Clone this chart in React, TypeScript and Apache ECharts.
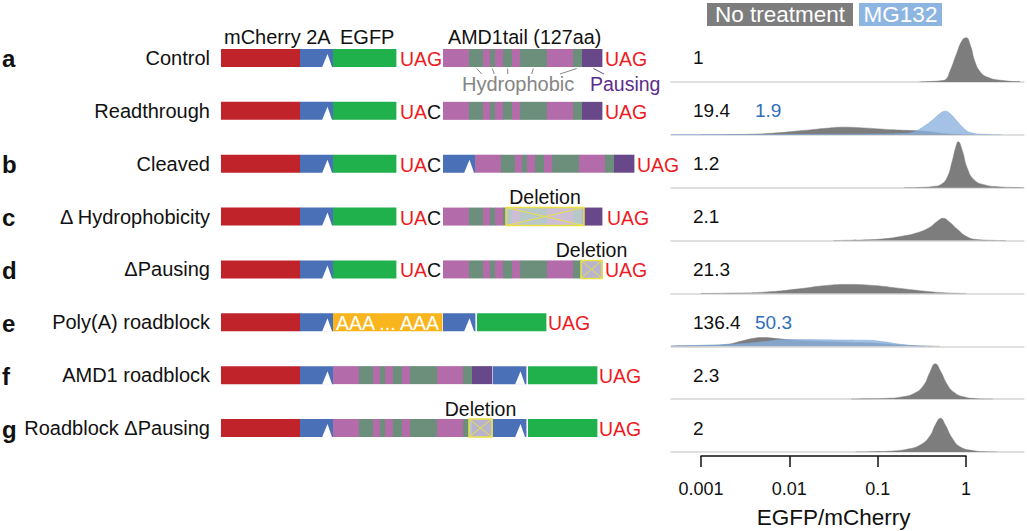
import React, { useEffect, useRef } from "react";
import * as echarts from "echarts";

// ---------- data ----------
const rowNames = [
  "Control",
  "Readthrough",
  "Cleaved",
  "Δ Hydrophobicity",
  "ΔPausing",
  "Poly(A) roadblock",
  "AMD1 roadblock",
  "Roadblock ΔPausing",
];
const panelLetters = ["a", "", "b", "c", "d", "e", "f", "g"];
const noTreatmentValues = ["1", "19.4", "1.2", "2.1", "21.3", "136.4", "2.3", "2"];
const mg132Values = ["", "1.9", "", "", "", "50.3", "", ""];
const legendNames = ["No treatment", "MG132"];
const axisTitle = "EGFP/mCherry";

// schematic: segment kinds
const segKinds = ["mCherry", "2A", "EGFP", "tail", "hydrophobic", "pausing", "polyA"];
// AMD1 tail pieces: [startOffset, endOffset, kind] (schematic units)
const amd1Tail: [number, number, string][] = [
  [0, 26, "tail"], [26, 40, "hydrophobic"], [40, 47, "tail"], [47, 52, "hydrophobic"],
  [52, 60, "tail"], [60, 69, "hydrophobic"], [69, 77, "tail"], [77, 104, "hydrophobic"],
  [104, 130, "tail"], [130, 139, "hydrophobic"], [139, 159, "pausing"],
];
// construct parts: [row, kind, start, end]; "amd1" expands to the tail pieces
const constructParts: [number, string, number, number][] = [
  [0, "mCherry", 0, 79], [0, "2A", 79, 112], [0, "EGFP", 112, 175], [0, "amd1", 222, 381],
  [1, "mCherry", 0, 79], [1, "2A", 79, 112], [1, "EGFP", 112, 175], [1, "amd1", 222, 381],
  [2, "mCherry", 0, 79], [2, "2A", 79, 112], [2, "EGFP", 112, 175], [2, "2A", 222, 254], [2, "amd1", 254, 413],
  [3, "mCherry", 0, 79], [3, "2A", 79, 112], [3, "EGFP", 112, 175], [3, "amd1", 222, 381],
  [4, "mCherry", 0, 79], [4, "2A", 79, 112], [4, "EGFP", 112, 175], [4, "amd1", 222, 381],
  [5, "mCherry", 0, 79], [5, "2A", 79, 112], [5, "polyA", 112, 221], [5, "2A", 222, 254], [5, "EGFP", 256, 325],
  [6, "mCherry", 0, 79], [6, "2A", 79, 112], [6, "amd1", 112, 271], [6, "2A", 272, 305], [6, "EGFP", 307, 376],
  [7, "mCherry", 0, 79], [7, "2A", 79, 112], [7, "amd1", 112, 271], [7, "2A", 272, 305], [7, "EGFP", 307, 376],
];
// deletions: [row, start, end]
const deletions: [number, number, number][] = [[3, 285, 363], [4, 360, 381], [7, 248, 271]];
// codons: [row, x, text]
const codons: [number, number, string][] = [
  [0, 179, "UAG"], [0, 384, "UAG"],
  [1, 179, "UAC"], [1, 384, "UAG"],
  [2, 179, "UAC"], [2, 416, "UAG"],
  [3, 179, "UAC"], [3, 386, "UAG"],
  [4, 179, "UAC"], [4, 384, "UAG"],
  [5, 327, "UAG"],
  [6, 378, "UAG"],
  [7, 378, "UAG"],
];

// densities: [EGFP/mCherry ratio, density]
const controlNT = [[0.295, 0], [0.427, 0.7], [0.513, 1.3], [0.581, 2.3], [0.661, 11.7], [0.776, 28], [0.902, 41.7], [1.0, 44.3], [1.114, 36.7], [1.259, 20], [1.445, 10], [1.718, 5], [2.432, 1.7], [4.07, 0.3]];
const readthroughNT = [[0.001, 0], [0.00234, 0.3], [0.00562, 1.3], [0.0132, 4], [0.0245, 6.3], [0.0407, 7.7], [0.0759, 6.7], [0.151, 5], [0.278, 4], [0.427, 2.7], [0.562, 1.3], [0.794, 0.3], [1.26, 0]];
const readthroughMG = [[0.00046, 0.3], [0.00316, 0.4], [0.0316, 0.6], [0.0759, 0.7], [0.2, 1.5], [0.257, 3], [0.331, 8.3], [0.427, 15.7], [0.513, 21.7], [0.581, 23.7], [0.661, 21], [0.794, 13.3], [0.933, 6.7], [1.114, 2.3], [1.585, 0.5], [2.512, 0]];
const cleavedNT = [[0.2, 0], [0.302, 0.3], [0.427, 1.3], [0.513, 3], [0.607, 10], [0.692, 26], [0.759, 40], [0.813, 46], [0.897, 38], [1.023, 20], [1.216, 8.3], [1.585, 3], [2.432, 0.8], [3.548, 0.2], [4.467, 0]];
const dHydrophobicityNT = [[0.0316, 0], [0.049, 0.3], [0.0759, 0.7], [0.117, 1.7], [0.18, 4], [0.278, 7.7], [0.389, 13.3], [0.468, 19], [0.55, 22.3], [0.631, 19.3], [0.794, 11.3], [1.023, 3.7], [1.318, 1], [1.862, 0.3], [2.818, 0]];
const dPausingNT = [[0.001, 0], [0.00234, 0.3], [0.00562, 1.5], [0.0132, 4.7], [0.0245, 7.7], [0.0447, 9], [0.0891, 8], [0.18, 5], [0.363, 2], [0.607, 0.5], [1.0, 0]];
const polyANT = [[0.00046, 0.3], [0.001, 0.7], [0.002, 2], [0.00282, 5], [0.00398, 8], [0.00513, 8.7], [0.00724, 7.7], [0.0112, 6], [0.0204, 5], [0.049, 4], [0.1, 3], [0.18, 1.3], [0.302, 0.3], [0.501, 0]];
const polyAMG = [[0.00046, 0.3], [0.001, 1], [0.00234, 2], [0.00562, 5], [0.00794, 6.5], [0.0132, 6.7], [0.0316, 6.3], [0.0759, 6], [0.117, 4.5], [0.18, 2], [0.278, 0.5], [0.427, 0]];
const amd1RoadblockNT = [[0.05, 0], [0.0759, 0.3], [0.117, 0.7], [0.18, 2], [0.257, 5.7], [0.331, 14], [0.389, 27], [0.447, 35.3], [0.513, 28], [0.607, 15], [0.724, 7], [0.933, 2.3], [1.318, 0.5], [2.0, 0]];
const roadblockDPausingNT = [[0.0562, 0], [0.0891, 0.3], [0.151, 1], [0.214, 2.7], [0.302, 7], [0.389, 16], [0.447, 27], [0.513, 33.7], [0.581, 27], [0.692, 14], [0.859, 5], [1.216, 1.3], [1.585, 0.3], [2.239, 0]];

const noTreatmentDensities = [controlNT, readthroughNT, cleavedNT, dHydrophobicityNT, dPausingNT, polyANT, amd1RoadblockNT, roadblockDPausingNT];
const mg132Densities: (number[][] | null)[] = [null, readthroughMG, null, null, null, polyAMG, null, null];

// ---------- styles / layout ----------
const FONT = "'Liberation Sans', Arial, Helvetica, sans-serif";
const segColors: Record<string, string> = {
  mCherry: "#c1232b",
  "2A": "#4a70b7",
  EGFP: "#20b14c",
  tail: "#b36ba9",
  hydrophobic: "#6c8f7b",
  pausing: "#684888",
  polyA: "#f8b51d",
};
const RED = "#ed1c24";
const GREY = "#7d7d7d";
const BLUE_FILL = "#89b1df";
const BLUE_TEXT = "#2f6fba";
const ROW_TOP = 31.55;
const ROW_STEP = 52.86;
const rowCenter = (i: number) => ROW_TOP + (i + 0.5) * ROW_STEP;
const BAR_H = 18;
const RIDGE_LEFT = 671;
const RIDGE_W = 353;
const RIDGE_H = 50;
const BASE_OFFSET = 24;

function buildSegments() {
  const out: number[][] = [];
  constructParts.forEach(([row, kind, s, e]) => {
    if (kind === "amd1") {
      amd1Tail.forEach(([a, b, k]) => out.push([row, s + a, s + b, segKinds.indexOf(k)]));
    } else {
      out.push([row, s, e, segKinds.indexOf(kind)]);
    }
  });
  return out;
}

export default function App() {
  const ref = useRef<HTMLDivElement>(null);
  useEffect(() => {
    if (!ref.current) return;
    const chart = echarts.init(ref.current, undefined, { renderer: "svg" });

    const grids: any[] = [
      { left: 221, top: ROW_TOP, width: 470, height: 8 * ROW_STEP },
    ];
    const xAxes: any[] = [{ type: "value", min: 0, max: 470, show: false, gridIndex: 0 }];
    const yAxes: any[] = [
      {
        type: "category",
        data: rowNames,
        inverse: true,
        gridIndex: 0,
        axisLine: { show: false },
        axisTick: { show: false },
        axisLabel: { fontSize: 20, color: "#111", fontFamily: FONT, margin: 11 },
      },
    ];
    for (let i = 0; i < 8; i++) {
      const base = rowCenter(i) + BASE_OFFSET;
      grids.push({ left: RIDGE_LEFT, width: RIDGE_W, top: base - RIDGE_H, height: RIDGE_H });
      xAxes.push({
        type: "log",
        logBase: 10,
        min: 0.00046,
        max: 4.5,
        gridIndex: i + 1,
        axisLine: { show: true, onZero: false, lineStyle: { color: "#d6d6d6", width: 1.5 } },
        axisTick: { show: false },
        axisLabel: { show: false },
        splitLine: { show: false },
      });
      yAxes.push({ type: "value", min: 0, max: RIDGE_H, show: false, gridIndex: i + 1 });
    }
    // visible bottom axis
    grids.push({ left: 701, width: 265, top: 440, height: 16 });
    xAxes.push({
      type: "log",
      logBase: 10,
      min: 0.001,
      max: 1,
      gridIndex: 9,
      axisLine: { show: true, onZero: false, lineStyle: { color: "#111", width: 1.5 } },
      axisTick: { show: true, length: 11, lineStyle: { color: "#111", width: 1.5 } },
      axisLabel: {
        show: true,
        fontSize: 18,
        color: "#111",
        fontFamily: FONT,
        margin: 24,
        formatter: (v: number) => String(Number(Number(v).toPrecision(2))),
      },
      splitLine: { show: false },
      name: axisTitle,
      nameLocation: "middle",
      nameGap: 50,
      nameTextStyle: { fontSize: 22.5, color: "#111", fontFamily: FONT },
    });
    yAxes.push({ type: "value", show: false, gridIndex: 9 });

    const series: any[] = [];
    series.push({
      type: "custom",
      xAxisIndex: 0,
      yAxisIndex: 0,
      silent: true,
      data: buildSegments(),
      encode: { x: [1, 2], y: 0 },
      renderItem: (_p: any, api: any) => {
        const row = api.value(0);
        const p0 = api.coord([api.value(1), row]);
        const p1 = api.coord([api.value(2), row]);
        const kind = segKinds[api.value(3)];
        const top = p0[1] - BAR_H / 2;
        const children: any[] = [
          {
            type: "rect",
            shape: { x: p0[0], y: top, width: p1[0] - p0[0] + 0.4, height: BAR_H },
            style: { fill: segColors[kind] },
          },
        ];
        if (kind === "2A") {
          children.push({
            type: "polygon",
            shape: { points: [[p1[0] - 11, top + BAR_H + 0.5], [p1[0] - 5.5, top + 5], [p1[0] - 0.8, top + BAR_H + 0.5]] },
            style: { fill: "#fff" },
          });
        }
        if (kind === "polyA") {
          children.push({
            type: "text",
            style: {
              text: "AAA ... AAA",
              x: (p0[0] + p1[0]) / 2,
              y: p0[1] + 1,
              align: "center",
              verticalAlign: "middle",
              fill: "#fff",
              fontSize: 19.5,
              fontFamily: FONT,
            },
          });
        }
        return { type: "group", children };
      },
    });
    series.push({
      type: "custom",
      xAxisIndex: 0,
      yAxisIndex: 0,
      silent: true,
      data: deletions,
      encode: { x: [1, 2], y: 0 },
      renderItem: (_p: any, api: any) => {
        const row = api.value(0);
        const p0 = api.coord([api.value(1), row]);
        const p1 = api.coord([api.value(2), row]);
        const top = p0[1] - BAR_H / 2;
        const x0 = p0[0], x1 = p1[0], y0 = top, y1 = top + BAR_H;
        const yel = "#ebe145";
        return {
          type: "group",
          children: [
            { type: "rect", shape: { x: x0, y: y0, width: x1 - x0, height: BAR_H }, style: { fill: "rgba(214,222,230,0.72)", stroke: yel, lineWidth: 1.5 } },
            { type: "line", shape: { x1: x0, y1: y0, x2: x1, y2: y1 }, style: { stroke: yel, lineWidth: 1 } },
            { type: "line", shape: { x1: x0, y1: y1, x2: x1, y2: y0 }, style: { stroke: yel, lineWidth: 1 } },
            {
              type: "text",
              style: {
                text: "Deletion",
                x: (x0 + x1) / 2,
                y: y0 - 0.5,
                align: "center",
                verticalAlign: "bottom",
                fill: "#111",
                fontSize: 19.5,
                fontFamily: FONT,
              },
            },
          ],
        };
      },
    });
    series.push({
      type: "custom",
      xAxisIndex: 0,
      yAxisIndex: 0,
      silent: true,
      data: codons.map(([r, x, t]) => [r, x, t === "UAC" ? 1 : 0]),
      encode: { x: 1, y: 0 },
      renderItem: (_p: any, api: any) => {
        const p = api.coord([api.value(1), api.value(0)]);
        const isUAC = api.value(2) === 1;
        return {
          type: "text",
          style: {
            text: isUAC ? "{r|UA}{k|C}" : "{r|UAG}",
            x: p[0],
            y: p[1] + 1,
            align: "left",
            verticalAlign: "middle",
            fontSize: 19.5,
            fontFamily: FONT,
            rich: {
              r: { fill: RED, fontSize: 19.5, fontFamily: FONT },
              k: { fill: "#111", fontSize: 19.5, fontFamily: FONT },
            },
          },
        };
      },
    });
    for (let i = 0; i < 8; i++) {
      series.push({
        type: "line",
        xAxisIndex: i + 1,
        yAxisIndex: i + 1,
        data: noTreatmentDensities[i],
        symbol: "none",
        smooth: 0.5,
        silent: true,
        lineStyle: { width: 0.5, color: GREY },
        areaStyle: { color: GREY, opacity: 1 },
        z: 2,
      });
      const mg = mg132Densities[i];
      if (mg) {
        series.push({
          type: "line",
          xAxisIndex: i + 1,
          yAxisIndex: i + 1,
          data: mg,
          symbol: "none",
          smooth: 0.5,
          silent: true,
          lineStyle: { width: 0.5, color: "#7aa3d6" },
          areaStyle: { color: BLUE_FILL, opacity: 0.78 },
          z: 3,
        });
      }
    }

    const txt = (text: string, x: number, y: number, extra: any = {}) => ({
      type: "text",
      x,
      y,
      silent: true,
      style: {
        text,
        fill: "#111",
        fontSize: 19,
        fontFamily: FONT,
        align: "left",
        verticalAlign: "middle",
        ...extra,
      },
    });

    const graphics: any[] = [];
    panelLetters.forEach((l, i) => {
      if (l) graphics.push(txt(l, 2, rowCenter(i) + 1, { fontSize: 24, fontWeight: "bold" }));
    });
    noTreatmentValues.forEach((v, i) => graphics.push(txt(v, 693, rowCenter(i), { fontSize: 19 })));
    mg132Values.forEach((v, i) => {
      if (v) graphics.push(txt(v, 755, rowCenter(i), { fontSize: 19, fill: BLUE_TEXT }));
    });
    // headers
    graphics.push(txt("mCherry 2A", 224, 37, { fontSize: 20 }));
    graphics.push(txt("EGFP", 340, 37, { fontSize: 20 }));
    graphics.push(txt("AMD1tail (127aa)", 448, 37, { fontSize: 19.7 }));
    // annotations
    const annGrey = "#888";
    const annLines = [
      [476.7, 68.5, 481.7, 74],
      [492.3, 68.5, 494.3, 74],
      [507.7, 68.5, 507.7, 74],
      [533.3, 68.5, 531.7, 74],
      [576.7, 68.5, 560, 74],
    ];
    annLines.forEach(([a, b, c, d]) =>
      graphics.push({ type: "line", silent: true, shape: { x1: a, y1: b, x2: c, y2: d }, style: { stroke: annGrey, lineWidth: 1 } })
    );
    graphics.push({ type: "line", silent: true, shape: { x1: 593.3, y1: 68.5, x2: 604, y2: 74 }, style: { stroke: "#6a4a8a", lineWidth: 1 } });
    graphics.push(txt("Hydrophobic", 462, 84, { fontSize: 20, fill: "#858585" }));
    graphics.push(txt("Pausing", 590, 84, { fontSize: 19.5, fill: "#5b2d8b" }));
    // legend
    graphics.push({ type: "rect", silent: true, shape: { x: 707, y: 3, width: 146, height: 23 }, style: { fill: "#7d7d7d" } });
    graphics.push(txt(legendNames[0], 780, 14.5, { fontSize: 22.5, fill: "#fff", align: "center" }));
    graphics.push({ type: "rect", silent: true, shape: { x: 859, y: 3, width: 83, height: 23 }, style: { fill: "#8db5e2" } });
    graphics.push(txt(legendNames[1], 900.5, 14.5, { fontSize: 22.5, fill: "#fff", align: "center" }));

    chart.setOption({
      animation: false,
      backgroundColor: "#fff",
      textStyle: { fontFamily: FONT },
      grid: grids,
      xAxis: xAxes,
      yAxis: yAxes,
      series,
      graphic: graphics,
    });
    return () => chart.dispose();
  }, []);
  return (
    <div
      ref={ref}
      style={{ position: "fixed", left: 0, top: 0, width: 1027, height: 531 }}
    />
  );
}
